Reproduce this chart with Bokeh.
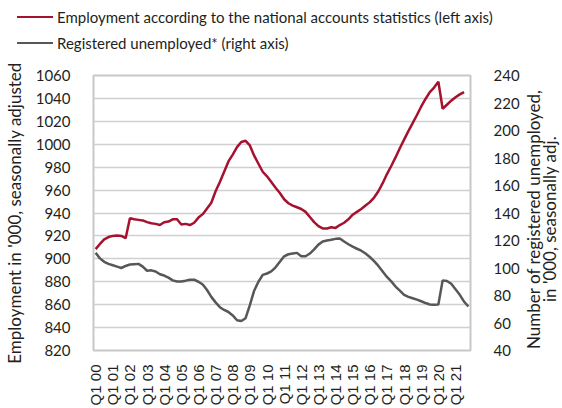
from bokeh.plotting import figure
from bokeh.layouts import column, row
from bokeh.models import Range1d, LinearAxis, FixedTicker, Div
from bokeh.embed import file_html
from bokeh.resources import INLINE

# quarterly data, 2000Q1 ...
employment = [908.5, 913, 917, 919, 920, 920.3, 920, 918,
              935.5, 934.5, 934, 933.5, 932, 931, 930.5, 929.5,
              932, 932.5, 934.5, 934.5, 930, 930.5, 929.5, 931.5,
              936, 939, 944, 949, 959, 967, 976, 985,
              991, 997.5, 1002, 1003, 999, 990, 983, 976,
              972, 967, 962, 957.5, 952, 948.5, 946.5, 945,
              943.5, 941, 936.5, 932, 928.5, 926.5, 926.5, 927.5,
              927, 929.5, 931.5, 934.5, 938.5, 941, 943.5, 946.5,
              949.5, 953.5, 959, 966, 974, 981, 988.5, 996.5,
              1004, 1011.5, 1018.5, 1025.5, 1033, 1039.5, 1045.5, 1049.5,
              1054.5, 1031, 1034.5, 1038, 1041, 1043.5, 1045.5]

unemployed = [111, 107, 104.5, 103, 102, 101, 100, 101.5,
              102.5, 102.8, 103, 101, 98, 98.3, 97.5, 95.5,
              94.5, 93, 91, 90.2, 90.2, 90.8, 91.5, 91.5,
              90, 88, 84, 79, 75, 71.5, 69.5, 68,
              65.5, 62, 61.5, 63.5, 73, 83.5, 90, 95,
              96, 97.5, 100.5, 104.5, 108.5, 110, 110.5, 111,
              108.6, 108.5, 110.5, 113.5, 117, 119.3, 120, 120.5,
              121.2, 121.5, 119.3, 117.3, 115.5, 114, 112.6, 110.5,
              108, 105, 101.5, 97.5, 93.5, 90.3, 86.5, 83.5,
              80.5, 79, 78, 77, 75.8, 74.5, 73.5, 73.3,
              73.5, 91, 90.5, 88.5, 84.5, 80.5, 75.5, 72]

tick_labels = ["Q1 00", "Q1 01", "Q1 02", "Q1 03", "Q1 04", "Q1 05", "Q1 06",
               "Q1 07", "Q1 08", "Q1 09", "Q1 10", "Q1 11", "Q1 12", "Q1 13",
               "Q1 14", "Q1 15", "Q1 16", "Q1 17", "Q1 18", "Q1 19", "Q1 20",
               "Q1 21"]
left_ticks = [820, 840, 860, 880, 900, 920, 940, 960, 980, 1000, 1020, 1040, 1060]
right_ticks = [40, 60, 80, 100, 120, 140, 160, 180, 200, 220, 240]

series_labels = ["Employment according to the national accounts statistics (left axis)",
                 "Registered unemployed* (right axis)"]
left_title = "Employment in '000, seasonally adjusted"
right_title_lines = ["Number of registered unemployed,", "in '000, seasonally adj."]

emp_x = list(range(len(employment)))
unemp_x = list(range(len(unemployed)))
tick_positions = [4 * k for k in range(len(tick_labels))]

RED = "#a5112e"
GRAY = "#575757"
TXT = "#231f20"
FONT = "Lato"
series_colors = [RED, GRAY]

# ---------- legend strip (HTML) ----------
items_html = ""
for k, (lab, col) in enumerate(zip(series_labels, series_colors)):
    top = 7 + 26 * k
    items_html += (
        f'<div style="position:absolute;left:17px;top:{top}px;height:20px;'
        f'display:flex;align-items:center;white-space:nowrap;">'
        f'<span style="display:inline-block;width:36px;height:0;'
        f'border-top:2.5px solid {col};margin-right:4px;"></span>{lab}</div>'
    )
legend_div = Div(
    width=562, height=60,
    text=(f'<div style="position:relative;width:562px;height:60px;font-family:{FONT};'
          f'font-size:15px;color:{TXT};line-height:20px;">{items_html}</div>'),
    margin=(0, 0, 0, 0),
)

# ---------- main chart ----------
p = figure(width=522, height=348, output_backend="svg", toolbar_location=None,
           x_range=Range1d(-0.5, 87.5), y_range=Range1d(820, 1060),
           min_border_left=89, min_border_right=51, min_border_top=15,
           min_border_bottom=54)
p.extra_y_ranges = {"right": Range1d(40, 240)}

p.outline_line_color = "#c8c8c8"
p.outline_line_width = 2

p.xgrid.visible = False
p.ygrid.ticker = FixedTicker(ticks=left_ticks)
p.ygrid.grid_line_color = "#d0d0d0"
p.ygrid.grid_line_width = 1.5

p.line(emp_x, employment, line_color=RED, line_width=2.5)
p.line(unemp_x, unemployed, line_color=GRAY, line_width=2.5, y_range_name="right")

xa = p.xaxis[0]
xa.ticker = FixedTicker(ticks=tick_positions)
xa.major_label_overrides = {tp: lab for tp, lab in zip(tick_positions, tick_labels)}
xa.major_label_orientation = 1.5708
xa.major_label_text_font = "Liberation Sans"
xa.major_label_text_font_size = "15px"
xa.major_label_text_color = TXT
xa.major_label_standoff = 8
xa.axis_line_color = None
xa.major_tick_line_color = None
xa.minor_tick_line_color = None

ya = p.yaxis[0]
ya.ticker = FixedTicker(ticks=left_ticks)
ya.axis_label = left_title
ya.axis_line_color = None
ya.major_tick_line_color = None
ya.minor_tick_line_color = None
ya.major_label_text_font = FONT
ya.major_label_text_font_size = "15px"
ya.major_label_text_color = TXT
ya.major_label_standoff = 17
ya.axis_label_text_font = FONT
ya.axis_label_text_font_size = "17px"
ya.axis_label_text_font_style = "normal"
ya.axis_label_text_color = TXT
ya.axis_label_standoff = 8

ra = LinearAxis(y_range_name="right", ticker=FixedTicker(ticks=right_ticks))
ra.axis_line_color = None
ra.major_tick_line_color = None
ra.minor_tick_line_color = None
ra.major_label_text_font = FONT
ra.major_label_text_font_size = "15px"
ra.major_label_text_color = TXT
ra.major_label_standoff = 17
p.add_layout(ra, "right")

# ---------- right axis title (HTML, reads bottom-to-top) ----------
right_div = Div(
    width=40, height=348,
    text=(f'<div style="position:relative;width:40px;height:348px;">'
          f'<div style="position:absolute;left:4px;top:20px;width:32px;height:279px;'
          f'writing-mode:vertical-rl;transform:rotate(180deg);text-align:center;'
          f'font-family:{FONT};font-size:17px;line-height:16px;color:{TXT};white-space:nowrap;">'
          f'{"<br>".join(right_title_lines)}</div></div>'),
    margin=(0, 0, 0, 0),
)

layout = column(legend_div, row(p, right_div, spacing=0), spacing=0)
open("out.html", "w").write(file_html(layout, INLINE))
